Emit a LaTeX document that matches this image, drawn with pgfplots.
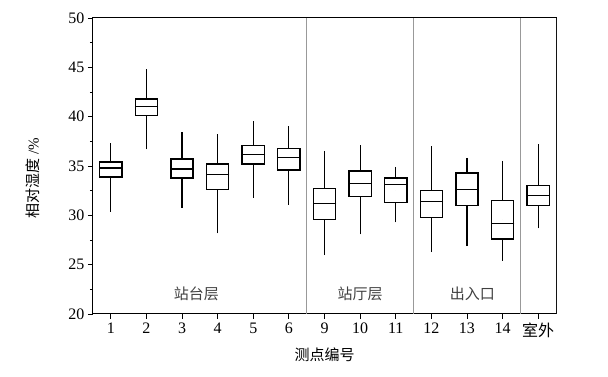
\documentclass[border=0pt]{standalone}
\usepackage{fontspec}
\setmainfont{Liberation Serif}
\newfontfamily\cjk{Noto Sans CJK SC}
\usepackage{pgfplots}
\usepackage{pgfplotstable}
\pgfplotsset{compat=1.18}
\pgfplotstableread{
x lw q1 med q3 uw
1 30.6 33.9 34.8 35.4 37.1
2 36.9 40.1 41.0 41.8 44.6
3 31.0 33.8 34.7 35.7 38.2
4 28.4 32.6 34.1 35.2 38.0
5 32.0 35.2 36.2 37.1 39.3
6 31.3 34.6 35.9 36.8 38.8
7 26.2 29.6 31.2 32.7 36.3
8 28.3 31.9 33.2 34.5 36.9
9 29.5 31.3 33.1 33.8 34.7
10 26.5 29.8 31.4 32.5 36.8
11 27.1 31.0 32.6 34.3 35.6
12 25.6 27.6 29.2 31.5 35.3
13 28.9 31.0 32.0 33.0 37.0
}\boxdata
\begin{document}
\begin{tikzpicture}
\path[use as bounding box] (0pt,0pt) rectangle (608pt,377pt);
\begin{axis}[at={(93pt,63pt)}, anchor=south west, scale only axis,
  width=463pt, height=296pt,
  xmin=0.5, xmax=13.5, ymin=20, ymax=50,
  xtick={1,...,13},
  xticklabels={1,2,3,4,5,6,9,10,11,12,13,14,{\cjk 室外}},
  ytick={20,25,...,50}, minor y tick num=1,
  xtick pos=left, ytick pos=left, tick align=outside,
  major tick length=5pt, minor tick length=3pt,
  tick style={black, line width=0.9pt},
  axis line style={line width=1pt},
  /pgf/number format/assume math mode=true,
  tick label style={font=\fontsize{16}{16}\selectfont},
  xlabel={\cjk 测点编号}, ylabel={{\cjk 相对湿度} /\%},
  label style={font=\fontsize{15}{15}\selectfont},
  xlabel style={at={(axis description cs:0.5,-0.139)}, anchor=center},
  ylabel style={at={(axis description cs:-0.13,0.46)}, anchor=center},
  nomark/.style={only marks, mark=*, mark size=0pt, mark options={draw=none, fill=none}},
]
% group separators
\addplot[black!40, line width=1pt, ycomb, mark=none] coordinates {(6.5,50) (9.5,50) (12.5,50) (13.5,50)};
% whiskers
\addplot[black, nomark,
  error bars/.cd, y dir=both, y explicit, error mark=-,
  error mark options={black, mark size=2.2pt, line width=1.2pt},
  error bar style={black, line width=1.2pt}]
  table[x=x, y=med, y error plus expr=\thisrow{uw}-\thisrow{med}, y error minus expr=\thisrow{med}-\thisrow{lw}] {\boxdata};
% box outline (black)
\addplot[black, nomark,
  error bars/.cd, y dir=both, y explicit, error mark=none,
  error bar style={black, line width=23.6pt, line cap=butt}]
  table[x=x, y expr=(\thisrow{q1}+\thisrow{q3})/2, y error expr=(\thisrow{q3}-\thisrow{q1})/2+0.07] {\boxdata};
% box interior (white)
\addplot[white, nomark,
  error bars/.cd, y dir=both, y explicit, error mark=none,
  error bar style={white, line width=20.8pt, line cap=butt}]
  table[x=x, y expr=(\thisrow{q1}+\thisrow{q3})/2, y error expr=(\thisrow{q3}-\thisrow{q1})/2-0.07] {\boxdata};
% medians
\addplot[black, only marks, mark=-, mark size=11.8pt, mark options={line width=1.2pt}]
  table[x=x, y=med] {\boxdata};
\node[black!75, font=\cjk\fontsize{15}{15}\selectfont] at (axis cs:3.4,22) {站台层};
\node[black!75, font=\cjk\fontsize{15}{15}\selectfont] at (axis cs:8,22) {站厅层};
\node[black!75, font=\cjk\fontsize{15}{15}\selectfont] at (axis cs:11.15,22) {出入口};
\end{axis}
\end{tikzpicture}
\end{document}
